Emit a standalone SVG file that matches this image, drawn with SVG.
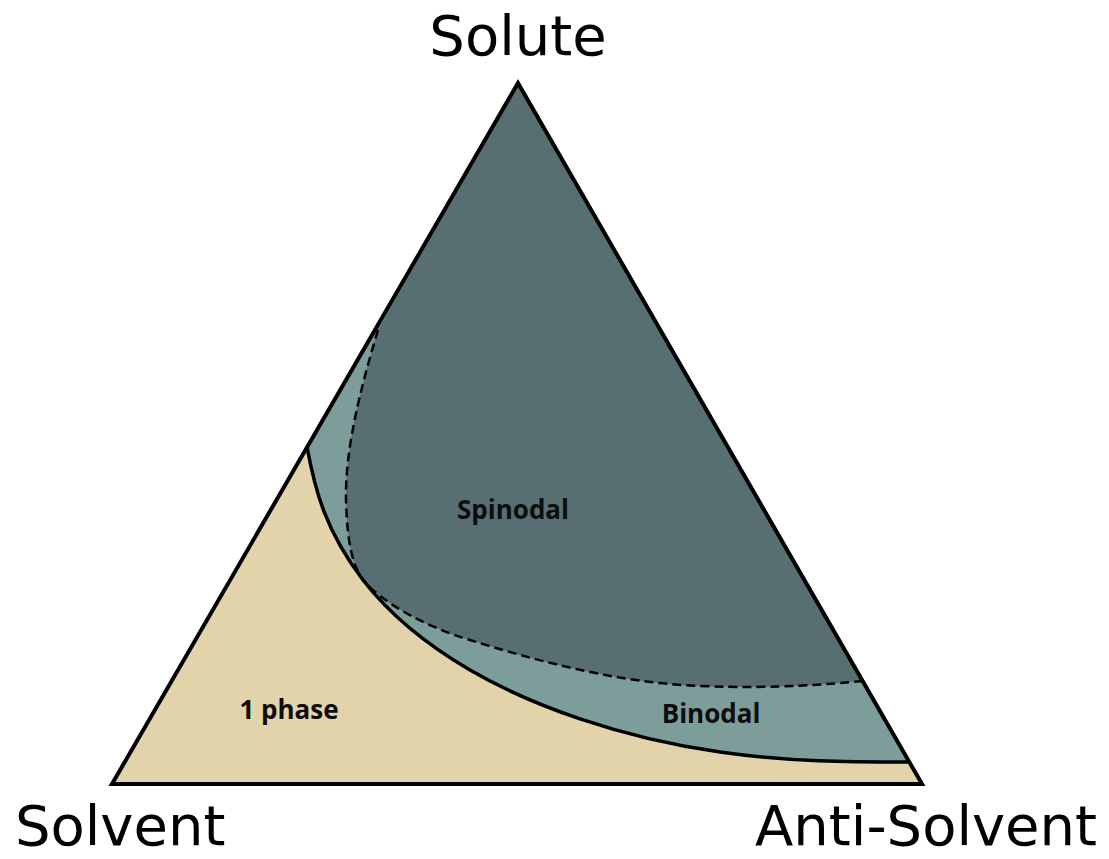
<svg xmlns="http://www.w3.org/2000/svg" width="1109" height="859" viewBox="0 0 1109 859">
<style>
.axis{font-family:"DejaVu Sans",Verdana,sans-serif;font-size:56px;fill:#000}
.lbl{font-family:"Open Sans","Liberation Sans",sans-serif;font-weight:bold;font-size:26px;fill:#0d0d0d;text-anchor:middle}
.edge{fill:none;stroke:#000;stroke-width:4;stroke-linejoin:miter}
</style>
<rect width="1109" height="859" fill="#fff"/>
<g id="one-phase">
<path d="M112,784 L518,83 L922,784 Z" fill="#e3d3ab"/>
</g>
<g id="binodal">
<path d="M307,447 C315,490 325,530 363,580 C380,602 410,635 470,670 C530,705 620,738 720,752 C790,762 850,762 909,762 L518,83 Z" fill="#7d9d9b"/>
</g>
<g id="spinodal">
<path d="M378,330 C360,390 345,450 346,500 C347,540 352,565 363,580 C380,600 420,625 470,640 C540,662 620,683 700,686 C780,689 830,684 863,681 L518,83 Z" fill="#576e72"/>
</g>
<g id="connectors">
<path d="M307,447 C315,490 325,530 363,580 C380,602 410,635 470,670 C530,705 620,738 720,752 C790,762 850,762 909,762" fill="none" stroke="#000" stroke-width="3.5"/>
<path d="M378,330 C360,390 345,450 346,500 C347,540 352,565 363,580 C380,600 420,625 470,640 C540,662 620,683 700,686 C780,689 830,684 863,681" fill="none" stroke="#000" stroke-width="2.5" stroke-dasharray="9,5"/>
<path class="edge" d="M112,784 L518,83 L922,784 Z"/>
</g>
<g id="labels">
<text class="axis" x="518" y="55" text-anchor="middle">Solute</text>
<text class="axis" x="15" y="845">Solvent</text>
<text class="axis" x="1097" y="845" text-anchor="end">Anti-Solvent</text>
<text class="lbl" x="513" y="519">Spinodal</text>
<text class="lbl" x="289" y="719">1 phase</text>
<text class="lbl" x="711" y="723">Binodal</text>
</g>
</svg>
